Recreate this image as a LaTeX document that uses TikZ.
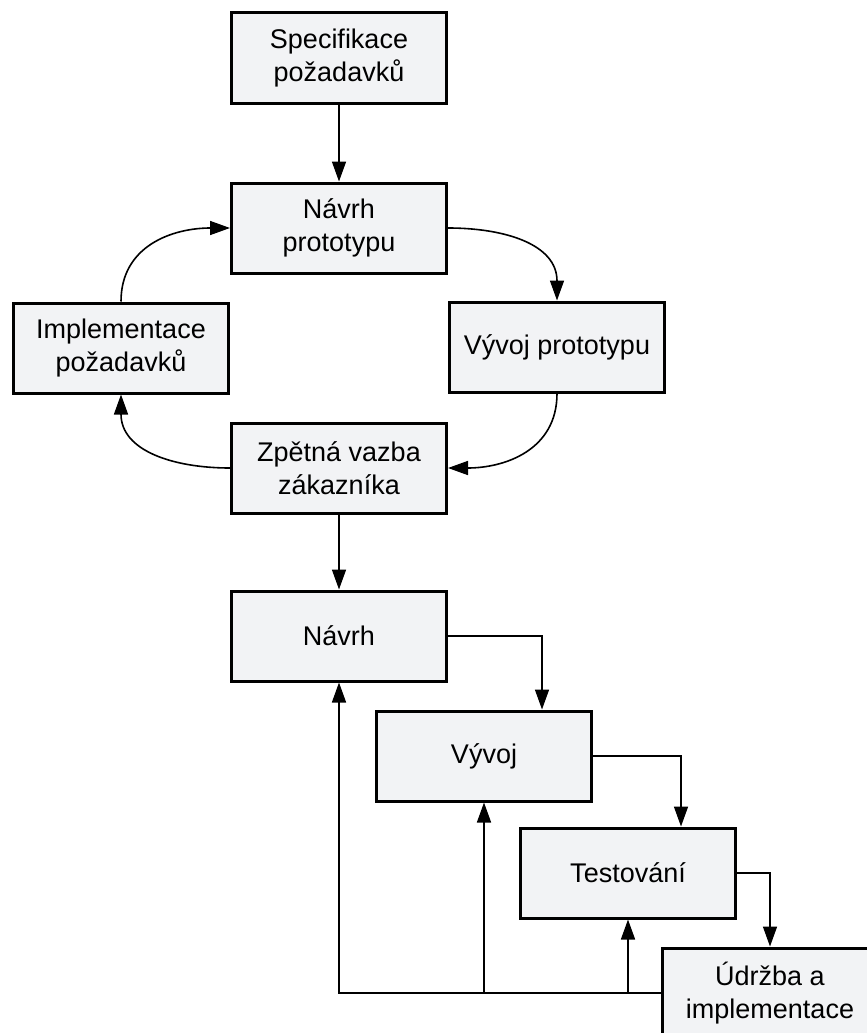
\documentclass[tikz,border=0pt]{standalone}
\usepackage{fontspec}
\setmainfont{Liberation Sans}
\usepackage{xcolor}
\usetikzlibrary{arrows.meta,positioning}
\definecolor{boxfill}{HTML}{F2F3F5}

\begin{document}
\begin{tikzpicture}[x=1pt, y=1pt,
  blok/.style={draw, line width=3pt, fill=boxfill, minimum width=215pt, minimum height=90pt, align=center, inner sep=0pt, font=\fontsize{27}{33}\selectfont},
  spoj/.style={line width=1.6pt, -{Triangle[length=20pt,width=14pt]}}]
\useasboundingbox (0,0) rectangle (867,-1033);
% prototypovani
\node[blok] (spec) at (339,-58) {Specifikace\\ požadavků};
\node[blok] (navp) at (339,-228) {Návrh\\ prototypu};
\node[blok] (impl) at (121,-348) {Implementace\\ požadavků};
\node[blok] (vyvp) at (557,-347) {Vývoj prototypu};
\node[blok] (zpet) at (339,-468) {Zpětná vazba\\ zákazníka};
% vodopad
\node[blok] (navrh) at (339,-636) {Návrh};
\node[blok] (vyvoj) at (484,-756) {Vývoj};
\node[blok] (test) at (628,-873) {Testování};
\node[blok] (udrz) at (770,-993) {Údržba a\\ implementace};

\draw[spoj] (spec) -- (navp);
\draw[spoj] (navp.east) to[out=0,in=90,looseness=1.1] (vyvp.north);
\draw[spoj] (vyvp.south) to[out=-90,in=0,looseness=1.1] (zpet.east);
\draw[spoj] (zpet.west) to[out=180,in=-90,looseness=1.1] (impl.south);
\draw[spoj] (impl.north) to[out=90,in=180,looseness=1.1] (navp.west);
\draw[spoj] (zpet) -- (navrh);
\draw[spoj] (navrh.east) -| ([xshift=58pt]vyvoj.north);
\draw[spoj] (vyvoj.east) -| ([xshift=53pt]test.north);
\draw[spoj] (test.east) -| (udrz.north);
% zpetne vazby
\draw[spoj] (udrz.west) -| (navrh.south);
\draw[spoj] (udrz.west -| vyvoj.south) -- (vyvoj.south);
\draw[spoj] (udrz.west -| test.south) -- (test.south);
\end{tikzpicture}
\end{document}
